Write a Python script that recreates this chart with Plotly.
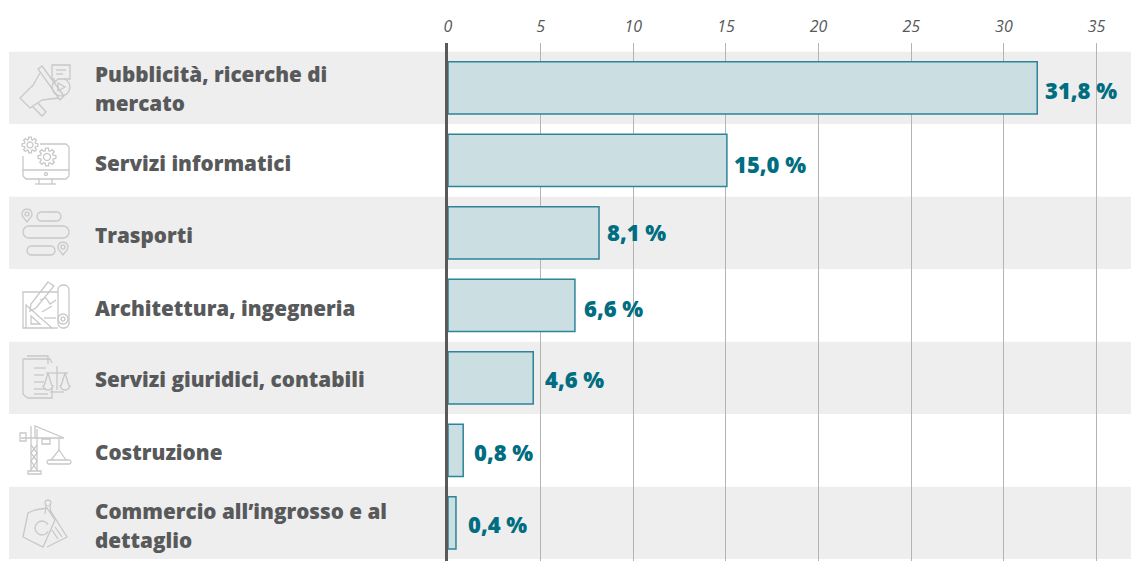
import numpy as np
import plotly.graph_objects as go

categories = ["Pubblicità, ricerche di<br>mercato", "Servizi informatici", "Trasporti",
              "Architettura, ingegneria", "Servizi giuridici, contabili", "Costruzione",
              "Commercio all’ingrosso e al<br>dettaglio"]
bar_values = [31.8, 15.05, 8.15, 6.85, 4.6, 0.82, 0.43]
value_labels = ["31,8 %", "15,0 %", "8,1 %", "6,6 %", "4,6 %", "0,8 %", "0,4 %"]
tick_values = [0, 5, 10, 15, 20, 25, 30, 35]

# small pixel nudges of the text, to sit where the reference has it
value_dx = [6, 5, 6, 7, 10, 9, 10]
value_dy = [-2, -3.5, 1, -2.5, -1, -1.5, -1]
label_dy = [-1, -3, -2, -3, -1, -2, -3]

W, H = 1131, 561
L, T = 448, 43
PW, PH = W - L, H - T
FONT = "Open Sans"
INK = "#58595b"
TEAL = "#006d80"
ICON = "#c8c8c8"

def px(x, y):
    return (x - L) / PW, 1 - (y - T) / PH

def poly(points, close=False):
    p = [px(*q) for q in points]
    return "M" + " L".join(f"{a:.5f},{b:.5f}" for a, b in p) + (" Z" if close else "")

def circle(cx, cy, r):
    t = np.linspace(0, 2 * np.pi, 25)[:-1]
    return poly(list(zip(cx + r * np.cos(t), cy + r * np.sin(t))), True)

def arc(cx, cy, r, a0, a1):
    t = np.radians(np.linspace(a0, a1, 13))
    return poly(list(zip(cx + r * np.cos(t), cy + r * np.sin(t))))

def roundrect(x0, y0, x1, y1, r=None):
    r = (y1 - y0) / 2 if r is None else r
    pts = []
    corners = [(x1 - r, y0 + r, -90), (x1 - r, y1 - r, 0), (x0 + r, y1 - r, 90), (x0 + r, y0 + r, 180)]
    for cx, cy, a0 in corners:
        for a in np.radians(np.linspace(a0, a0 + 90, 6)):
            pts.append((cx + r * np.cos(a), cy + r * np.sin(a)))
    return poly(pts, True)

def gear(cx, cy, r):
    pts = []
    for k in range(8):
        a = k * np.pi / 4
        for d, rr in ((-0.28, r * 0.72), (-0.16, r), (0.16, r), (0.28, r * 0.72)):
            pts.append((cx + rr * np.cos(a + d), cy + rr * np.sin(a + d)))
    return poly(pts, True)

def pin(cx, cy, s=1.0):
    t = np.radians(np.linspace(140, 400, 14))
    pts = [(cx + 5 * s * np.cos(a), cy + 5 * s * np.sin(a)) for a in t] + [(cx, cy + 8 * s)]
    return [poly(pts, True), circle(cx, cy, 2 * s)]

icon_paths = [
    # megaphone
    [poly([(52, 65), (70, 65), (70, 79), (58, 79), (54, 83), (54, 79), (52, 79)], True),
     poly([(56, 70), (66, 70)]), poly([(56, 74), (63, 74)]),
     arc(61, 87, 9, -70, 230), poly([(58, 83), (65, 87), (58, 91)], True),
     poly([(38, 69), (42, 66), (64, 96), (60, 100)], True),
     poly([(40, 73), (32, 87)]), poly([(59, 98), (42, 100)]),
     poly([(32, 86), (20, 98), (30, 108), (42, 100)]),
     poly([(32, 106), (42, 116), (46, 112), (38, 103)])],
    # monitor with gears
    [poly([(40, 144), (66, 144), (69, 147), (69, 176), (66, 179), (26, 179), (23, 176), (23, 156)]),
     poly([(23, 170), (69, 170)]), circle(46, 174, 1.5),
     poly([(39, 179), (39, 184)]), poly([(52, 179), (52, 184)]), poly([(35, 184), (56, 184)]),
     gear(30, 145, 8), circle(30, 145, 3), gear(47, 157, 9), circle(47, 157, 3.5)],
    # route
    [roundrect(37, 212, 61, 221), roundrect(23, 226, 69, 238), roundrect(27, 246, 55, 255),
     *pin(27, 214), *pin(63, 247)],
    # architecture
    [poly([(58, 292), (23, 292), (23, 328), (26, 328)]), poly([(58, 328), (52, 328)]),
     roundrect(58, 285, 69, 328, 5), circle(63, 319, 5), circle(63, 319, 2),
     poly([(26, 305), (26, 328), (52, 328)], True), poly([(31, 316), (31, 324), (40, 324)], True),
     poly([(48, 282), (54, 286), (36, 308), (30, 311), (31, 304)], True),
     poly([(40, 300), (46, 298), (50, 304), (56, 300)]), poly([(44, 318), (56, 318)]),
     poly([(42, 312), (52, 306)])],
    # documents and scales
    [poly([(27, 356), (48, 356), (48, 364)]), poly([(24, 359), (50, 359), (52, 363)]),
     poly([(52, 387), (52, 398), (28, 398), (25, 396), (23, 394), (23, 358)]),
     poly([(34, 368), (46, 368)]), poly([(34, 375), (44, 375)]), poly([(34, 382), (44, 382)]),
     poly([(34, 389), (46, 389)]), poly([(34, 394), (48, 394)]),
     poly([(57, 366), (57, 390)]), poly([(46, 373), (68, 373)]), poly([(50, 392), (64, 392)]),
     poly([(48, 373), (44, 386)]), poly([(48, 373), (52, 386)]), arc(48, 385, 5, 0, 180),
     poly([(65, 373), (61, 386)]), poly([(65, 373), (69, 386)]), arc(65, 385, 5, 0, 180)],
    # crane
    [poly([(31, 426), (31, 471)]), poly([(37, 429), (37, 471)]), poly([(28, 471), (41, 471), (41, 474), (28, 474)], True),
     poly([(31, 445), (37, 453), (31, 461), (37, 470)]), poly([(37, 445), (31, 453), (37, 461), (31, 470)]),
     poly([(21, 438), (64, 438), (35, 426), (35, 438)]),
     poly([(20, 433), (26, 433), (26, 441), (20, 441)], True),
     poly([(42, 439), (50, 439), (50, 444), (42, 444)], True),
     poly([(59, 438), (59, 450)]), poly([(51, 460), (59, 450), (66, 460)]),
     roundrect(47, 460, 71, 464)],
    # tags
    [poly([(35, 510), (28, 513), (23, 537), (43, 547), (55, 520), (47, 508)], True),
     poly([(50, 510), (67, 537), (47, 547)]), arc(42, 528, 7, 30, 330),
     poly([(55, 527), (62, 537)]), poly([(52, 530), (58, 539)]),
     arc(48, 503, 3, 100, 440), poly([(46, 506), (45, 514)]), poly([(50, 506), (51, 514)])],
]

fig = go.Figure(go.Bar(
    x=bar_values, y=categories, orientation="h", width=0.72,
    marker=dict(color="#cbdfe2", line=dict(color="#2c8498", width=1.5)),
    hoverinfo="skip",
))

shapes = []
for i in range(0, len(categories), 2):
    shapes.append(dict(type="rect", xref="paper", yref="paper", layer="below",
                       x0=px(9, 0)[0], x1=1,
                       y0=px(0, 87.9 + 72.5 * i - 36.2)[1], y1=px(0, 87.9 + 72.5 * i + 36.2)[1],
                       fillcolor="#eeeeee", line_width=0))
for paths in icon_paths:
    for p in paths:
        shapes.append(dict(type="path", xref="paper", yref="paper", layer="below", path=p,
                           line=dict(color=ICON, width=1.3)))

annotations = []
for i, c in enumerate(categories):
    lines = c.split("<br>")
    for k, line in enumerate(lines):
        annotations.append(dict(x=px(92.8, 0)[0], xref="paper", y=c, yref="y", text=line, showarrow=False,
                                xanchor="left", align="left", yanchor="middle",
                                yshift=(len(lines) - 1) * 14.5 - k * 29 + label_dy[i],
                                font=dict(family=FONT, size=20.7, color=INK, weight=800)))
    annotations.append(dict(x=bar_values[i], xref="x", y=c, yref="y", text=value_labels[i], showarrow=False,
                            xanchor="left", xshift=value_dx[i], yshift=value_dy[i], yanchor="middle",
                            font=dict(family=FONT, size=22, color=TEAL, weight=800)))

fig.update_layout(
    width=W, height=H, margin=dict(l=L, r=0, t=T, b=0, pad=0),
    paper_bgcolor="white", plot_bgcolor="rgba(0,0,0,0)", showlegend=False,
    shapes=shapes, annotations=annotations,
    xaxis=dict(side="top", range=[0, PW / 18.53], tickvals=tick_values,
               showgrid=True, gridcolor="#b4b4b4", gridwidth=1, zeroline=False,
               ticks="outside", ticklen=4, tickcolor="rgba(0,0,0,0)",
               tickfont=dict(family=FONT, size=16, color=INK, style="italic")),
    yaxis=dict(type="category", categoryorder="array", categoryarray=categories,
               range=[6 + (561 - 522.9) / 72.5, -(87.9 - 43) / 72.5],
               showticklabels=False, ticks="", showgrid=False, zeroline=False,
               showline=True, linecolor="#58595b", linewidth=2.5),
)
fig.write_html("out.html", config={"displayModeBar": False},
               post_script="document.body.style.margin='0';")
